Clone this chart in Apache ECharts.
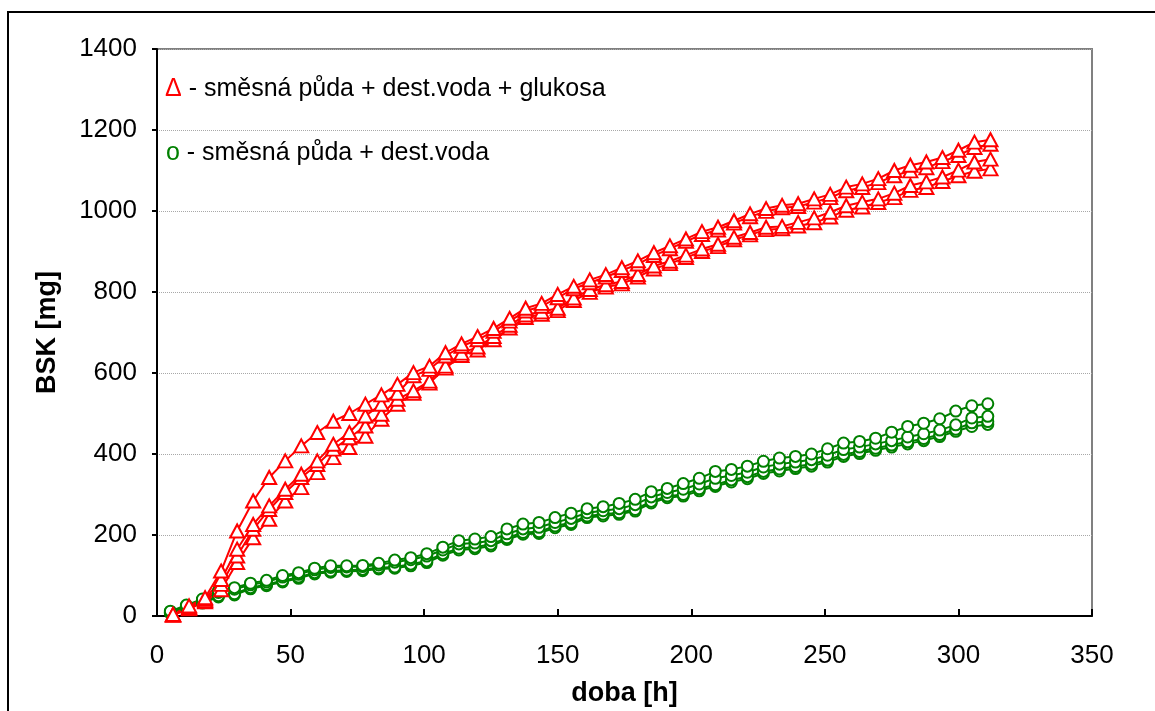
<!DOCTYPE html>
<html>
<head>
<meta charset="utf-8">
<script src="https://cdn.jsdelivr.net/npm/echarts@6/dist/echarts.min.js"></script>
<style>
  html, body { margin: 0; padding: 0; background: #fff; }
  #chart { width: 1155px; height: 711px; }
</style>
</head>
<body>
<div id="chart"></div>
<script>
// Sampling times [h]
const timeGlucose = [6, 12, 18, 24, 30, 36, 42, 48, 54, 60, 66, 72, 78, 84, 90, 96, 102, 108, 114, 120,
  126, 132, 138, 144, 150, 156, 162, 168, 174, 180, 186, 192, 198, 204, 210, 216, 222, 228, 234, 240,
  246, 252, 258, 264, 270, 276, 282, 288, 294, 300, 306, 312];
const timeWater = [5, 11, 17, 23, 29, 35, 41, 47, 53, 59, 65, 71, 77, 83, 89, 95, 101, 107, 113, 119,
  125, 131, 137, 143, 149, 155, 161, 167, 173, 179, 185, 191, 197, 203, 209, 215, 221, 227, 233, 239,
  245, 251, 257, 263, 269, 275, 281, 287, 293, 299, 305, 311];

// BSK [mg] - směsná půda + dest.voda + glukosa (four replicates)
const glucose1 = [4, 25, 45, 111, 210, 284, 342, 383, 420, 453, 481, 500, 523, 546, 572, 601, 617, 650, 672, 690,
  710, 735, 760, 772, 794, 814, 830, 843, 860, 877, 897, 914, 931, 949, 960, 976, 993, 1006, 1014, 1018,
  1030, 1041, 1059, 1067, 1080, 1100, 1113, 1121, 1132, 1150, 1170, 1176];
const glucose2 = [3, 22, 42, 90, 165, 226, 272, 313, 350, 383, 424, 453, 494, 523, 550, 593, 609, 642, 666, 682,
  703, 728, 753, 765, 786, 808, 823, 837, 853, 869, 890, 907, 925, 942, 953, 970, 986, 999, 1008, 1011,
  1022, 1033, 1050, 1058, 1070, 1087, 1099, 1107, 1122, 1137, 1157, 1165];
const glucose3 = [3, 20, 38, 78, 148, 214, 263, 305, 342, 374, 412, 440, 469, 498, 535, 556, 580, 617, 649, 664,
  690, 718, 743, 751, 760, 785, 806, 818, 826, 843, 864, 876, 891, 906, 918, 935, 947, 960, 962, 972,
  983, 997, 1013, 1022, 1030, 1044, 1063, 1072, 1084, 1101, 1121, 1128];
const glucose4 = [2, 18, 35, 65, 132, 193, 239, 284, 317, 354, 391, 416, 444, 486, 523, 550, 575, 612, 643, 657,
  682, 711, 737, 745, 754, 779, 799, 812, 820, 837, 857, 870, 885, 900, 912, 929, 941, 954, 956, 963,
  971, 985, 1002, 1010, 1021, 1033, 1051, 1058, 1073, 1087, 1098, 1104];

// BSK [mg] - směsná půda + dest.voda (four replicates)
const water1 = [12, 27, 42, 62, 70, 81, 88, 100, 107, 118, 124, 124, 125, 130, 138, 144, 154, 170, 186, 190,
  196, 215, 227, 231, 243, 254, 265, 270, 278, 288, 307, 315, 327, 340, 357, 362, 370, 382, 390, 394,
  400, 413, 427, 431, 439, 454, 468, 476, 487, 506, 519, 524];
const water2 = [10, 25, 39, 58, 66, 77, 84, 96, 103, 114, 120, 121, 122, 126, 133, 139, 148, 163, 178, 180,
  186, 203, 215, 219, 231, 241, 255, 260, 265, 275, 294, 305, 313, 326, 340, 347, 355, 368, 375, 380,
  386, 397, 411, 417, 425, 433, 442, 450, 459, 472, 489, 493];
const water3 = [8, 22, 34, 50, 55, 70, 78, 87, 96, 107, 111, 113, 115, 119, 121, 128, 136, 154, 167, 170,
  177, 193, 206, 208, 222, 230, 247, 251, 255, 263, 283, 296, 300, 314, 324, 336, 344, 357, 363, 369,
  375, 385, 399, 406, 414, 422, 430, 438, 448, 461, 477, 480];
const water4 = [7, 20, 32, 47, 52, 67, 75, 84, 93, 104, 108, 110, 112, 116, 118, 124, 132, 150, 163, 166,
  173, 189, 202, 204, 218, 226, 243, 247, 251, 259, 279, 292, 296, 309, 320, 331, 339, 352, 358, 364,
  370, 380, 394, 401, 409, 417, 425, 433, 443, 456, 468, 473];

const xTicks = [0, 50, 100, 150, 200, 250, 300, 350];
const yTicks = [0, 200, 400, 600, 800, 1000, 1200, 1400];

const legendGlucose = ' - směsná půda + dest.voda + glukosa';
const legendWater = ' - směsná půda + dest.voda';

const FONT = '"Liberation Sans", Arial, sans-serif';
const RED = '#ff0000';
const GREEN = '#008000';

function pairs(xs, ys) {
  return xs.map((x, i) => [x, ys[i]]);
}

function glucoseSeries(values) {
  return {
    type: 'line',
    data: pairs(timeGlucose, values),
    symbol: 'triangle',
    symbolSize: [14, 13],
    showAllSymbol: true,
    lineStyle: { color: RED, width: 2 },
    itemStyle: { color: '#fff', borderColor: RED, borderWidth: 2 },
    emphasis: { disabled: true },
    animation: false
  };
}

function waterSeries(values) {
  return {
    type: 'line',
    data: pairs(timeWater, values),
    symbol: 'circle',
    symbolSize: 11,
    showAllSymbol: true,
    lineStyle: { color: GREEN, width: 2 },
    itemStyle: { color: '#fff', borderColor: GREEN, borderWidth: 2 },
    emphasis: { disabled: true },
    animation: false
  };
}

const chart = echarts.init(document.getElementById('chart'), null, { renderer: 'canvas' });

chart.setOption({
  backgroundColor: '#fff',
  animation: false,
  textStyle: { fontFamily: FONT },
  grid: {
    left: 157, top: 49, right: 63, bottom: 95,
    outerBoundsMode: 'none',
    containLabel: false,
    show: true, borderColor: '#808080', borderWidth: 2, backgroundColor: 'transparent'
  },
  xAxis: {
    type: 'value',
    min: xTicks[0], max: xTicks[xTicks.length - 1], interval: 50,
    name: 'doba [h]',
    nameLocation: 'middle',
    nameGap: 64,
    nameTextStyle: { fontSize: 27, fontWeight: 'bold', color: '#000', fontFamily: FONT },
    axisLine: { show: true, lineStyle: { color: '#000', width: 2 } },
    axisTick: { show: true, inside: true, length: 7, lineStyle: { color: '#000', width: 2 } },
    axisLabel: { fontSize: 26, color: '#000', margin: 27, fontFamily: FONT, formatter: v => String(v) },
    splitLine: { show: false }
  },
  yAxis: {
    type: 'value',
    min: yTicks[0], max: yTicks[yTicks.length - 1], interval: 200,
    name: 'BSK [mg]',
    nameLocation: 'middle',
    nameGap: 96,
    nameRotate: 90,
    nameTextStyle: { fontSize: 27, fontWeight: 'bold', color: '#000', fontFamily: FONT },
    axisLine: { show: true, lineStyle: { color: '#000', width: 2 } },
    axisTick: { show: true, inside: false, length: 5, lineStyle: { color: '#000', width: 2 } },
    axisLabel: { fontSize: 26, color: '#000', margin: 20, fontFamily: FONT, formatter: v => String(v) },
    splitLine: { show: true, lineStyle: { color: '#a8a8a8', width: 1, type: 'dotted' } }
  },
  graphic: [
    {
      type: 'rect',
      shape: { x: 8, y: 12, width: 1400, height: 900 },
      style: { fill: 'none', stroke: '#000', lineWidth: 2 },
      silent: true,
      z: 100
    },
    {
      type: 'text',
      left: 165, top: 77,
      style: {
        text: '{r|Δ}{k|' + legendGlucose + '}',
        rich: {
          r: { fill: RED, fontSize: 25, fontFamily: FONT },
          k: { fill: '#000', fontSize: 25, fontFamily: FONT }
        }
      },
      z: 100
    },
    {
      type: 'text',
      left: 166, top: 141,
      style: {
        text: '{g|o}{k|' + legendWater + '}',
        rich: {
          g: { fill: GREEN, fontSize: 25, fontFamily: FONT },
          k: { fill: '#000', fontSize: 25, fontFamily: FONT }
        }
      },
      z: 100
    }
  ],
  series: [
    waterSeries(water4),
    waterSeries(water3),
    waterSeries(water2),
    waterSeries(water1),
    glucoseSeries(glucose4),
    glucoseSeries(glucose3),
    glucoseSeries(glucose2),
    glucoseSeries(glucose1)
  ]
});
</script>
</body>
</html>
